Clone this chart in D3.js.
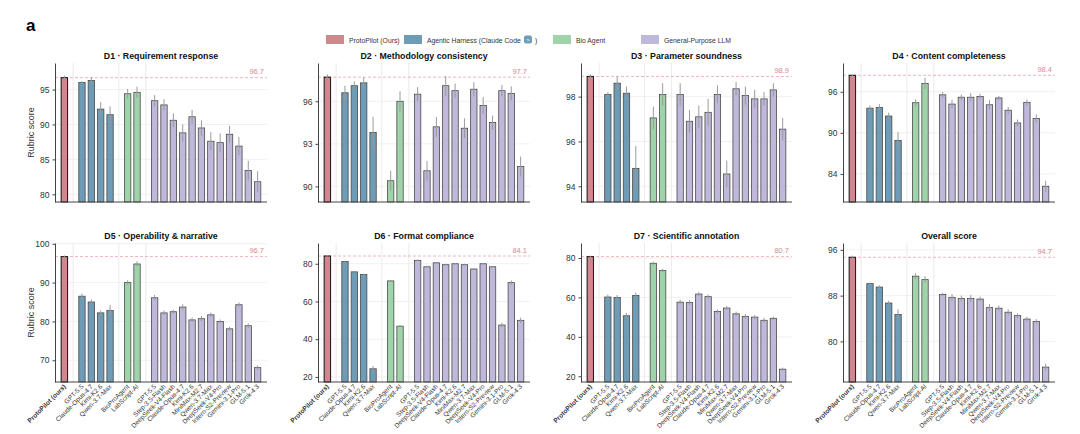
<!DOCTYPE html>
<html>
<head>
<meta charset="utf-8">
<script src="https://d3js.org/d3.v7.min.js"></script>
<style>
  body { margin: 0; background: #fff; }
  svg { font-family: "Liberation Sans", Arial, sans-serif; }
</style>
</head>
<body>
<div id="chart"></div>
<script>
// categories
const models = ["ProtoPilot (ours)", "GPT-5.5", "Claude-Opus-4.7", "Kimi-K2.6", "Qwen-3.7-Max",
  "BioProAgent", "LabScript-AI",
  "GPT-5.5", "Step-3.5-Flash", "DeepSeek-V4-Flash", "Claude-Opus-4.7", "Kimi-K2.6", "MiniMax-M2.7",
  "Qwen-3.7-Max", "DeepSeek-V4-Pro", "Intern-S2-Preview", "Gemini-3.1-Pro", "GLM-5.1", "Grok-4.3"];
const modelGroup = [0, 1, 1, 1, 1, 2, 2, 3, 3, 3, 3, 3, 3, 3, 3, 3, 3, 3, 3];
const groupNames = ["ProtoPilot (Ours)", "Agentic Harness (Claude Code", "Bio Agent", "General-Purpose LLM"];

const titles = ["D1 · Requirement response", "D2 · Methodology consistency", "D3 · Parameter soundness",
  "D4 · Content completeness", "D5 · Operability & narrative", "D6 · Format compliance",
  "D7 · Scientific annotation", "Overall score"];

// series values (mean rubric score) and error half-widths
const dim1 = [96.7, 96.0, 96.3, 92.2, 91.4, 94.4, 94.6, 93.4, 92.8, 90.6, 88.8, 91.1, 89.5, 87.6, 87.4, 88.6, 86.9, 83.4, 81.8];
const dim1Err = [0.3, 0.2, 0.5, 1.0, 1.2, 0.7, 0.8, 0.8, 0.8, 1.0, 1.2, 1.0, 1.1, 1.3, 1.3, 1.2, 1.3, 1.4, 1.5];
const dim2 = [97.7, 96.6, 97.1, 97.3, 93.8, 90.4, 96.0, 96.5, 91.1, 94.2, 97.1, 96.75, 94.1, 96.85, 95.7, 94.5, 96.75, 96.55, 91.4];
const dim2Err = [0.2, 0.5, 0.3, 0.4, 1.1, 0.7, 0.7, 0.5, 0.7, 0.7, 0.7, 0.5, 0.7, 0.5, 0.6, 0.5, 0.4, 0.5, 0.7];
const dim3 = [98.9, 98.1, 98.6, 98.15, 94.8, 97.05, 98.1, 98.1, 96.9, 97.1, 97.3, 98.1, 94.55, 98.35, 98.05, 97.9, 97.9, 98.3, 96.55];
const dim3Err = [0.1, 0.1, 0.3, 0.3, 1.0, 0.5, 0.5, 0.5, 0.5, 0.5, 0.6, 0.4, 0.6, 0.3, 0.4, 0.4, 0.3, 0.3, 0.5];
const dim4 = [98.4, 93.6, 93.7, 92.45, 88.9, 94.4, 97.2, 95.55, 94.2, 95.2, 95.2, 95.3, 94.1, 95.1, 93.3, 91.45, 94.45, 92.1, 82.2];
const dim4Err = [0.2, 0.4, 0.5, 0.5, 1.2, 0.5, 0.8, 0.4, 0.6, 0.4, 0.6, 0.4, 0.7, 0.3, 0.5, 0.5, 0.4, 0.6, 0.8];
const dim5 = [96.7, 86.5, 85.0, 82.2, 82.8, 90.0, 94.8, 86.1, 82.2, 82.5, 83.7, 80.4, 80.7, 81.7, 80.0, 78.1, 84.3, 78.9, 68.1];
const dim5Err = [0.3, 0.7, 0.7, 0.6, 1.4, 0.6, 0.7, 0.7, 0.6, 0.5, 0.7, 0.6, 0.7, 0.6, 0.5, 0.5, 0.6, 0.6, 0.6];
const dim6 = [84.1, 81.2, 75.7, 74.3, 24.3, 70.9, 46.9, 81.8, 78.4, 80.5, 79.5, 80.0, 79.5, 77.2, 80.0, 78.4, 47.5, 70.0, 50.0];
const dim6Err = [0.3, 0.4, 0.5, 0.4, 1.5, 0.5, 0.4, 0.4, 0.5, 0.5, 0.5, 0.4, 0.5, 0.6, 0.4, 0.4, 1.2, 1.2, 1.4];
const dim7 = [80.7, 60.2, 60.0, 50.7, 61.0, 77.3, 73.6, 57.6, 57.4, 61.7, 60.4, 52.9, 54.6, 51.7, 50.4, 50.0, 48.4, 49.4, 23.6];
const dim7Err = [0.5, 1.2, 1.2, 1.4, 1.5, 0.9, 0.8, 1.2, 1.2, 1.1, 1.1, 1.0, 1.0, 1.1, 1.2, 1.1, 1.2, 0.9, 0.8];
const overall = [94.7, 90.1, 89.5, 86.7, 84.7, 91.4, 90.8, 88.2, 87.7, 87.5, 87.5, 87.4, 85.9, 85.8, 85.1, 84.5, 83.9, 83.5, 75.5];
const overallErr = [0.3, 0.2, 0.3, 0.4, 0.9, 0.5, 0.6, 0.3, 0.6, 0.5, 0.6, 0.4, 0.6, 0.5, 0.5, 0.4, 0.4, 0.4, 0.6];

// y domains and tick labels per panel
const yDomains = [[78.9, 98.8], [88.9, 98.7], [93.3, 99.5], [79.9, 100.2], [64.4, 100.2], [17.3, 91], [17.1, 87.6], [72.9, 97.2]];
const yTicks = [[80, 85, 90, 95], [90, 93, 96], [94, 96, 98], [84, 90, 96], [70, 80, 90, 100], [20, 40, 60, 80], [20, 40, 60, 80], [80, 88, 96]];

const series = [dim1, dim2, dim3, dim4, dim5, dim6, dim7, overall];
const errors = [dim1Err, dim2Err, dim3Err, dim4Err, dim5Err, dim6Err, dim7Err, overallErr];

const colors = ["#d4868e", "#6e9cb6", "#9fd4ab", "#bfb8da"];
const W = 1080, H = 434;
const cols = [[55, 267], [318, 530], [581, 792], [843, 1055]];
const rows = [[63, 202], [243, 382]];
const groupGap = 0.88;

const svg = d3.select("#chart").append("svg").attr("width", W).attr("height", H);

svg.append("text").attr("x", 26).attr("y", 31).attr("font-size", 17).attr("font-weight", "bold").text("a");

// legend
const legX = [326, 404, 553, 641];
groupNames.forEach((g, i) => {
  svg.append("rect").attr("x", legX[i]).attr("y", 35).attr("width", 18).attr("height", 9).attr("fill", colors[i]);
  svg.append("text").attr("x", legX[i] + 23).attr("y", 42.5).attr("font-size", 6.8).attr("fill", "#333").text(g);
});
// claude code icon + closing paren
svg.append("rect").attr("x", 524).attr("y", 35.5).attr("width", 8).attr("height", 8).attr("rx", 2).attr("fill", "#6e9cb6");
svg.append("text").attr("x", 528).attr("y", 42).attr("font-size", 6).attr("fill", "#fff").attr("text-anchor", "middle").text(">");
svg.append("text").attr("x", 535).attr("y", 42.5).attr("font-size", 6.8).attr("fill", "#333").text(")");

// x positions with gaps between groups
const pos = modelGroup.map((g, i) => i + g * groupGap);
const sepPos = [1, 5, 7].map(i => (pos[i - 1] + pos[i]) / 2);

series.forEach((vals, p) => {
  const [x0, x1] = cols[p % 4];
  const [y0, y1] = rows[Math.floor(p / 4)];
  const x = d3.scaleLinear().domain([-1, pos[pos.length - 1] + 1]).range([x0, x1]);
  const y = d3.scaleLinear().domain(yDomains[p]).range([y1, y0]);
  const bw = (x(1) - x(0)) * 0.68;
  const g = svg.append("g");

  // grid
  g.selectAll(".grid").data(yTicks[p]).enter().append("line")
    .attr("x1", x0).attr("x2", x1).attr("y1", d => y(d)).attr("y2", d => y(d))
    .attr("stroke", "#eeeeee").attr("stroke-width", 0.8);
  g.selectAll(".sep").data(sepPos).enter().append("line")
    .attr("x1", d => x(d)).attr("x2", d => x(d)).attr("y1", y0).attr("y2", y1)
    .attr("stroke", "#e6e6e6").attr("stroke-width", 0.8);

  // reference line
  const ref = vals[0];
  g.append("line").attr("x1", x0).attr("x2", x1).attr("y1", y(ref)).attr("y2", y(ref))
    .attr("stroke", "#e9a3a9").attr("stroke-width", 0.8).attr("stroke-dasharray", "3,2");
  g.append("text").attr("x", x1 - 3).attr("y", y(ref) - 3.5).attr("text-anchor", "end")
    .attr("font-size", 7.5).attr("fill", "#d98a92").text(ref.toFixed(1));

  // bars
  g.selectAll(".bar").data(vals).enter().append("rect")
    .attr("x", (d, i) => x(pos[i]) - bw / 2)
    .attr("y", d => y(d))
    .attr("width", bw)
    .attr("height", d => y1 - y(d))
    .attr("fill", (d, i) => colors[modelGroup[i]])
    .attr("stroke", (d, i) => i === 0 ? "#222" : "#4a4a4a")
    .attr("stroke-width", (d, i) => i === 0 ? 1.1 : 0.8);

  // error bars
  g.selectAll(".err").data(vals).enter().append("line")
    .attr("x1", (d, i) => x(pos[i])).attr("x2", (d, i) => x(pos[i]))
    .attr("y1", (d, i) => y(d - errors[p][i])).attr("y2", (d, i) => y(d + errors[p][i]))
    .attr("stroke", "#9a9a9a").attr("stroke-width", 1);

  // axes
  const ya = g.append("g").attr("transform", `translate(${x0},0)`)
    .call(d3.axisLeft(y).tickValues(yTicks[p]).tickFormat(d3.format("d"))
      .tickSize(2.5).tickPadding(3).tickSizeOuter(0));
  ya.select(".domain").attr("stroke", "#444");
  ya.selectAll(".tick line").attr("stroke", "#444");
  ya.selectAll(".tick text").attr("font-size", 8.5).attr("fill", "#333").attr("font-family", null);
  g.append("line").attr("x1", x0).attr("x2", x1).attr("y1", y1).attr("y2", y1)
    .attr("stroke", "#444").attr("stroke-width", 1);

  // title
  g.append("text").attr("x", (x0 + x1) / 2).attr("y", y0 - 4).attr("text-anchor", "middle")
    .attr("font-size", 8.8).attr("font-weight", "bold").attr("fill", "#111").text(titles[p]);

  if (p % 4 === 0) {
    g.append("text").attr("transform", `translate(${x0 - 21},${(y0 + y1) / 2}) rotate(-90)`)
      .attr("text-anchor", "middle").attr("font-size", 9).attr("fill", "#333").text("Rubric score");
  }

  if (p >= 4) {
    g.selectAll(".xl").data(models).enter().append("text")
      .attr("transform", (d, i) => `translate(${x(pos[i]) + 2},${y1 + 5}) rotate(-45)`)
      .attr("text-anchor", "end").attr("font-size", 6.5).attr("fill", "#333")
      .attr("font-weight", (d, i) => i === 0 ? "bold" : "normal")
      .text(d => d);
  }
});
</script>
</body>
</html>
